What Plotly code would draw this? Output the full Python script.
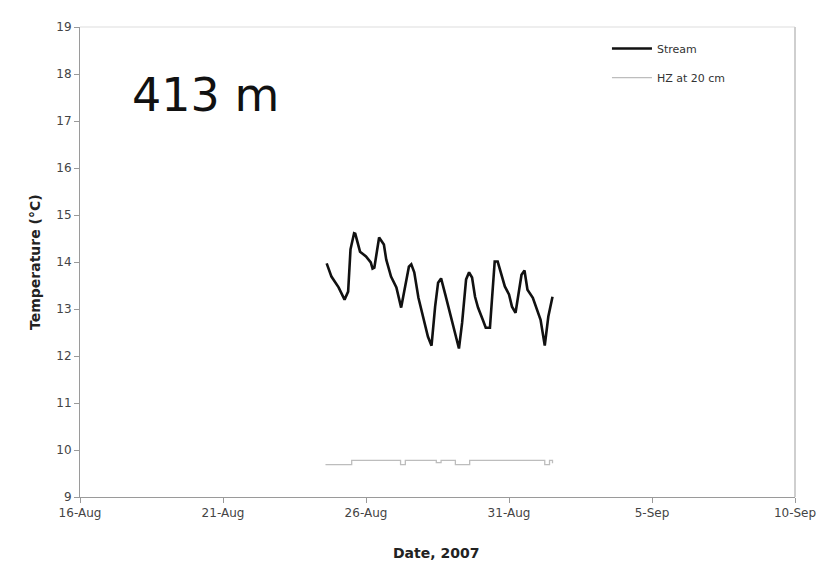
import plotly.graph_objects as go

# Stream temperature
stream_time = [
    "2007-08-24 15:00", "2007-08-24 19:00", "2007-08-25 01:00", "2007-08-25 06:00",
    "2007-08-25 09:00", "2007-08-25 11:00", "2007-08-25 14:00", "2007-08-25 15:00",
    "2007-08-25 19:00", "2007-08-26 00:00", "2007-08-26 04:00", "2007-08-26 05:30",
    "2007-08-26 07:00", "2007-08-26 10:00", "2007-08-26 11:00", "2007-08-26 15:00",
    "2007-08-26 17:00", "2007-08-26 21:00", "2007-08-27 01:30", "2007-08-27 05:30",
    "2007-08-27 09:00", "2007-08-27 12:00", "2007-08-27 14:00", "2007-08-27 16:30",
    "2007-08-27 20:00", "2007-08-28 00:00", "2007-08-28 04:00", "2007-08-28 07:00",
    "2007-08-28 10:00", "2007-08-28 12:30", "2007-08-28 15:00", "2007-08-28 18:30",
    "2007-08-28 22:30", "2007-08-29 02:40", "2007-08-29 06:00", "2007-08-29 08:40",
    "2007-08-29 12:00", "2007-08-29 14:30", "2007-08-29 17:00", "2007-08-29 19:30",
    "2007-08-29 22:00", "2007-08-30 02:00", "2007-08-30 04:30", "2007-08-30 08:00",
    "2007-08-30 10:30", "2007-08-30 12:00", "2007-08-30 14:30", "2007-08-30 17:00",
    "2007-08-30 20:30", "2007-08-31 00:00", "2007-08-31 02:30", "2007-08-31 05:30",
    "2007-08-31 09:00", "2007-08-31 10:30", "2007-08-31 13:00", "2007-08-31 15:30",
    "2007-08-31 20:00", "2007-08-31 23:00", "2007-09-01 02:30", "2007-09-01 06:00",
    "2007-09-01 09:00", "2007-09-01 12:30",
]
stream_temp = [
    13.97, 13.69, 13.46, 13.20,
    13.37, 14.27, 14.61, 14.60,
    14.22, 14.12, 13.99, 13.86,
    13.88, 14.33, 14.52, 14.37,
    14.05, 13.69, 13.46, 13.03,
    13.48, 13.90, 13.95, 13.78,
    13.24, 12.84, 12.41, 12.22,
    13.05, 13.56, 13.65, 13.31,
    12.92, 12.45, 12.16, 12.71,
    13.63, 13.78, 13.67, 13.26,
    13.03, 12.77, 12.60, 12.60,
    13.56, 14.01, 14.01, 13.78,
    13.48, 13.31, 13.05, 12.92,
    13.48, 13.73, 13.82, 13.41,
    13.24, 13.03, 12.77, 12.22,
    12.84, 13.26,
]

# Hyporheic zone at 20 cm
hz_time = [
    "2007-08-24 14:00", "2007-08-25 11:00", "2007-08-25 12:00", "2007-08-27 04:00",
    "2007-08-27 05:00", "2007-08-27 08:00", "2007-08-27 09:00", "2007-08-28 10:00",
    "2007-08-28 11:00", "2007-08-28 14:00", "2007-08-28 15:00", "2007-08-29 02:00",
    "2007-08-29 03:00", "2007-08-29 14:00", "2007-08-29 15:00", "2007-09-01 05:00",
    "2007-09-01 06:00", "2007-09-01 09:00", "2007-09-01 10:00", "2007-09-01 12:30",
]
hz_temp = [
    9.69, 9.69, 9.78, 9.78,
    9.69, 9.69, 9.78, 9.78,
    9.73, 9.73, 9.78, 9.78,
    9.69, 9.69, 9.78, 9.78,
    9.69, 9.69, 9.78, 9.72,
]

x_ticks = ["2007-08-16", "2007-08-21", "2007-08-26", "2007-08-31", "2007-09-05", "2007-09-10"]
x_ticklabels = ["16-Aug", "21-Aug", "26-Aug", "31-Aug", "5-Sep", "10-Sep"]
y_ticks = list(range(9, 20))

font_fam = "DejaVu Sans, Verdana, sans-serif"

fig = go.Figure()
fig.add_trace(go.Scatter(
    x=stream_time, y=stream_temp, mode="lines", name="Stream",
    line=dict(color="#111111", width=2.6), legendgroup="a",
))
fig.add_trace(go.Scatter(
    x=hz_time, y=hz_temp, mode="lines", name="HZ at 20 cm",
    line=dict(color="#bdbdbd", width=1.3, shape="hv"), legendgroup="b",
))

fig.add_annotation(
    x=0.176, y=0.855, xref="paper", yref="paper", text="413 m", showarrow=False,
    xanchor="center", yanchor="middle",
    font=dict(family=font_fam, size=46, color="#111111"),
)
fig.add_annotation(
    x=0.498, y=0, xref="paper", yref="paper", text="<b>Date, 2007</b>", showarrow=False,
    xanchor="center", yanchor="middle", yshift=-56,
    font=dict(family=font_fam, size=14, color="#222222"),
)
fig.add_annotation(
    x=0, y=0.5, xref="paper", yref="paper", text="<b>Temperature (°C)</b>", showarrow=False,
    xanchor="center", yanchor="middle", xshift=-45, textangle=-90,
    font=dict(family=font_fam, size=14, color="#222222"),
)

axis_common = dict(
    showgrid=False, zeroline=False, showline=True, linecolor="#9a9a9a", linewidth=1,
    ticks="outside", ticklen=5, tickcolor="#9a9a9a", automargin=False,
    tickfont=dict(family=font_fam, size=12, color="#444444"),
)

fig.update_layout(
    width=826, height=564,
    paper_bgcolor="white", plot_bgcolor="white",
    margin=dict(l=72, r=39, t=19, b=75),
    showlegend=True,
    legend=dict(
        x=0.737, y=0.985, xanchor="left", yanchor="top", itemwidth=40,
        bgcolor="rgba(0,0,0,0)", traceorder="grouped", tracegroupgap=10,
        font=dict(family=font_fam, size=11, color="#333333"),
    ),
    xaxis=dict(
        type="date", range=["2007-08-16", "2007-09-10"],
        tickvals=x_ticks, ticktext=x_ticklabels,
        **axis_common,
    ),
    yaxis=dict(
        range=[9, 19], tickvals=y_ticks,
        **axis_common,
    ),
    shapes=[
        dict(type="line", xref="paper", yref="paper", x0=0, x1=1, y0=1, y1=1,
             line=dict(color="#dddddd", width=1)),
        dict(type="line", xref="paper", yref="paper", x0=1, x1=1, y0=0, y1=1,
             line=dict(color="#cfcfcf", width=2)),
    ],
)

fig.write_html("out.html")
